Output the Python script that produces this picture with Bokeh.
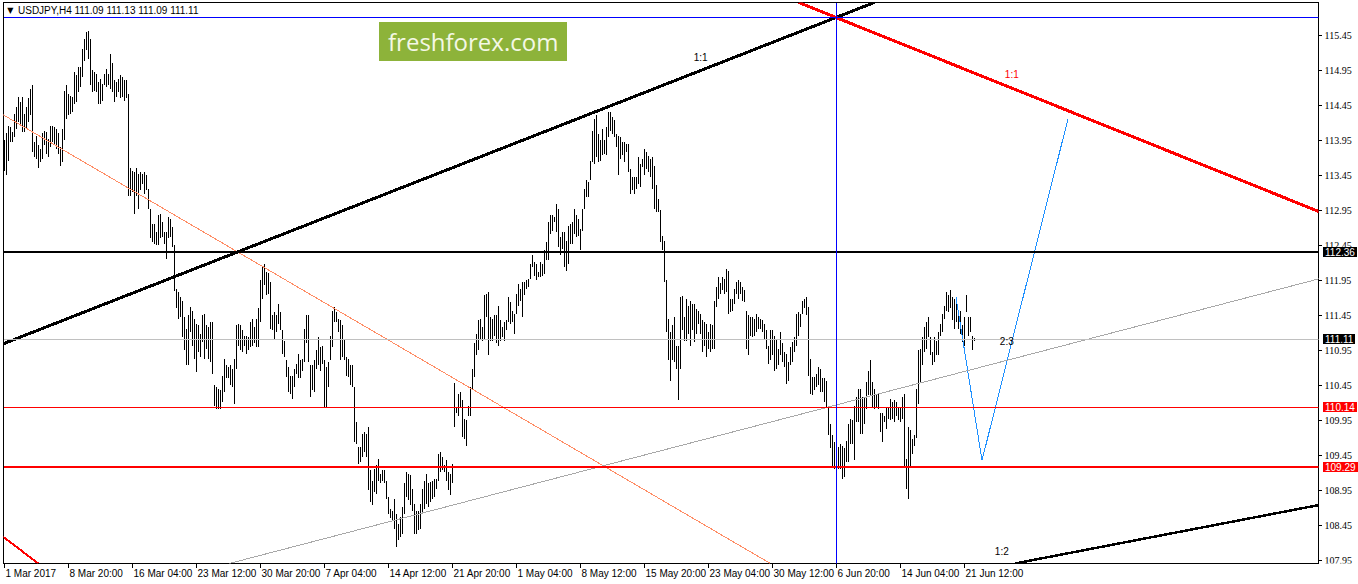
from bokeh.plotting import figure
from bokeh.layouts import row
from bokeh.models import (Range1d, Span, Slope, Label, FixedTicker, LinearAxis)
from bokeh.embed import file_html
from bokeh.resources import INLINE

# ---------------- data ----------------
symbol_header = "USDJPY,H4  111.09 111.13 111.09 111.11"

bar_high = [
    113.95, 114.05, 114.16, 114.14, 114.07, 114.33, 114.43, 114.57, 114.50, 114.57,
    114.33, 114.43, 114.55, 114.69, 114.74, 113.93, 114.02, 113.88, 113.83, 114.05,
    114.09, 114.07, 113.97, 114.16, 114.16, 114.14, 114.12, 114.05, 113.85, 114.12,
    114.66, 114.74, 114.62, 114.59, 114.57, 114.93, 114.88, 115.00, 115.00, 115.26,
    115.40, 115.50, 115.51, 115.40, 114.95, 114.93, 114.90, 114.78, 114.83, 114.76,
    114.90, 114.97, 114.90, 115.19, 115.05, 114.81, 114.78, 114.83, 114.88, 114.86,
    114.81, 114.81, 114.62, 113.55, 113.52, 113.50, 113.55, 113.47, 113.50, 113.47,
    113.50, 113.45, 113.26, 112.97, 112.76, 112.76, 112.64, 112.88, 112.90, 112.78,
    112.64, 112.64, 112.85, 112.83, 112.71, 112.45, 111.83, 111.78, 111.71, 111.66,
    111.43, 111.26, 111.45, 111.57, 111.52, 111.40, 111.33, 111.31, 111.19, 111.45,
    111.47, 111.31, 111.28, 111.35, 111.35, 110.45, 110.43, 110.40, 110.38, 110.59,
    110.83, 110.74, 110.71, 110.74, 110.69, 110.83, 111.31, 111.33, 111.31, 111.24,
    111.16, 111.16, 111.14, 111.35, 111.40, 111.28, 111.40, 111.55, 111.95, 112.14,
    112.19, 112.07, 112.05, 111.93, 111.45, 111.50, 111.45, 111.62, 111.50, 111.24,
    111.09, 110.81, 110.71, 110.59, 110.59, 110.69, 110.76, 110.90, 110.81, 110.83,
    111.26, 111.45, 111.45, 110.74, 110.74, 110.81, 110.95, 111.14, 111.00, 111.02,
    110.81, 110.71, 110.78, 111.16, 111.52, 111.57, 111.50, 111.40, 111.38, 111.31,
    111.12, 110.86, 110.83, 110.74, 110.74, 110.43, 109.93, 109.57, 109.57, 109.76,
    109.78, 109.76, 109.86, 109.24, 109.09, 109.26, 109.31, 109.40, 109.19, 109.24,
    109.24, 109.09, 108.85, 108.69, 108.66, 108.83, 108.62, 108.47, 108.57, 108.71,
    109.05, 109.21, 109.19, 109.17, 108.97, 108.76, 108.66, 108.66, 108.76, 108.97,
    109.09, 109.19, 109.05, 109.07, 109.09, 109.12, 109.12, 109.47, 109.50, 109.43,
    109.31, 109.38, 109.21, 109.19, 109.33, 110.48, 110.14, 110.33, 110.36, 110.24,
    109.97, 109.95, 110.16, 110.43, 110.69, 111.05, 111.19, 111.38, 111.40, 111.28,
    111.74, 111.76, 111.78, 111.43, 111.40, 111.45, 111.45, 111.59, 111.38, 111.28,
    111.35, 111.38, 111.71, 111.64, 111.52, 111.47, 111.76, 111.90, 111.83, 111.93,
    111.93, 111.95, 111.97, 112.19, 112.31, 112.21, 112.19, 112.07, 112.21, 112.19,
    112.38, 112.50, 112.78, 112.88, 112.88, 112.85, 113.04, 112.97, 112.57, 112.64,
    112.64, 112.52, 112.73, 112.76, 112.78, 112.97, 112.88, 112.83, 112.69, 112.97,
    113.26, 113.38, 113.35, 113.66, 114.09, 114.26, 114.31, 114.04, 113.95, 114.12,
    113.95, 114.14, 114.35, 114.35, 114.28, 114.24, 114.04, 114.02, 114.00, 113.93,
    113.93, 113.90, 113.90, 113.54, 113.43, 113.43, 113.43, 113.71, 113.62, 113.69,
    113.83, 113.78, 113.73, 113.69, 113.71, 113.59, 113.31, 113.12, 112.95, 112.59,
    112.52, 111.95, 111.40, 111.21, 111.31, 111.43, 111.02, 111.02, 111.71, 111.73,
    111.43, 111.69, 111.59, 111.66, 111.62, 111.62, 111.54, 111.52, 111.47, 111.38,
    111.35, 111.33, 111.21, 111.33, 111.31, 111.66, 111.85, 112.00, 111.92, 112.00,
    111.97, 112.12, 112.09, 111.69, 111.69, 111.83, 111.93, 111.95, 111.93, 111.85,
    111.81, 111.52, 111.45, 111.43, 111.43, 111.40, 111.47, 111.43, 111.40, 111.38,
    111.33, 111.24, 111.02, 111.24, 111.24, 111.16, 111.12, 110.97, 111.21, 111.05,
    110.93, 110.90, 110.78, 111.00, 111.07, 111.14, 111.47, 111.50, 111.47, 111.66,
    111.69, 111.71, 111.57, 110.83, 110.57, 110.57, 110.62, 110.71, 110.69, 110.55,
    110.55, 110.52, 110.16, 109.90, 109.74, 109.64, 109.59, 109.57, 109.62, 109.59,
    109.55, 109.66, 109.90, 109.97, 109.95, 110.16, 110.28, 110.40, 110.40, 110.28,
    110.28, 110.50, 110.66, 110.81, 110.50, 110.40, 110.33, 110.33, 110.05, 110.05,
    110.02, 110.14, 110.14, 110.26, 110.21, 110.24, 110.21, 110.14, 110.14, 110.28,
    110.33, 109.40, 109.85, 109.81, 109.69, 109.74, 110.40, 110.95, 110.97, 111.14,
    111.28, 111.35, 111.43, 111.14, 110.93, 111.14, 111.09, 111.21, 111.33, 111.47,
    111.59, 111.78, 111.74, 111.81, 111.71, 111.69, 111.64, 111.47, 111.52, 111.31,
    111.43, 111.74, 111.43, 111.43, 111.16, 111.13,
]

bar_low = [
    113.52, 113.45, 113.66, 113.93, 113.93, 114.00, 114.12, 114.21, 114.16, 114.07,
    114.07, 114.12, 114.21, 114.31, 113.78, 113.71, 113.69, 113.55, 113.64, 113.69,
    113.88, 113.76, 113.71, 113.85, 113.93, 113.88, 113.83, 113.76, 113.59, 113.64,
    113.95, 114.26, 114.31, 114.33, 114.35, 114.47, 114.50, 114.64, 114.71, 114.86,
    115.09, 115.24, 115.12, 114.74, 114.64, 114.66, 114.64, 114.47, 114.47, 114.52,
    114.74, 114.71, 114.74, 114.69, 114.64, 114.50, 114.57, 114.64, 114.55, 114.57,
    114.52, 114.55, 113.16, 113.16, 113.21, 112.90, 113.16, 112.97, 113.24, 113.33,
    113.19, 113.24, 112.97, 112.55, 112.50, 112.47, 112.45, 112.45, 112.55, 112.57,
    112.47, 112.26, 112.55, 112.57, 112.43, 111.80, 111.55, 111.40, 111.43, 111.14,
    110.95, 110.74, 110.74, 111.21, 111.02, 110.83, 110.64, 110.93, 110.85, 111.07,
    110.83, 110.97, 110.83, 110.78, 110.62, 110.16, 110.12, 110.12, 110.12, 110.21,
    110.35, 110.55, 110.55, 110.45, 110.43, 110.19, 110.69, 111.02, 110.95, 110.93,
    111.02, 110.90, 110.95, 111.00, 111.02, 111.05, 111.00, 111.00, 111.36, 111.69,
    111.88, 111.74, 111.76, 111.26, 111.24, 111.12, 111.21, 111.33, 111.24, 110.90,
    110.86, 110.57, 110.36, 110.33, 110.26, 110.43, 110.62, 110.55, 110.55, 110.66,
    110.78, 111.05, 110.78, 110.28, 110.38, 110.36, 110.69, 110.74, 110.66, 110.76,
    110.14, 110.14, 110.43, 110.81, 111.00, 111.36, 111.36, 111.21, 110.81, 110.86,
    110.81, 110.59, 110.57, 110.45, 110.43, 109.64, 109.62, 109.33, 109.36, 109.43,
    109.50, 109.43, 108.95, 108.78, 108.74, 108.93, 108.90, 109.09, 109.05, 109.09,
    109.05, 108.83, 108.62, 108.55, 108.52, 108.40, 108.14, 108.24, 108.28, 108.33,
    108.62, 108.86, 108.81, 108.74, 108.66, 108.33, 108.33, 108.38, 108.40, 108.62,
    108.69, 108.76, 108.71, 108.78, 108.83, 108.86, 108.97, 109.09, 109.21, 109.24,
    109.21, 109.09, 108.95, 108.88, 109.05, 109.86, 110.05, 110.02, 110.14, 109.71,
    109.69, 109.59, 110.02, 110.02, 110.38, 110.57, 110.88, 110.95, 111.12, 111.09,
    111.12, 111.43, 110.88, 111.09, 111.09, 111.16, 111.05, 111.02, 111.09, 111.14,
    111.09, 111.24, 111.35, 111.33, 111.35, 111.19, 111.47, 111.59, 111.66, 111.43,
    111.74, 111.83, 111.85, 111.97, 112.14, 112.02, 111.95, 112.00, 112.00, 112.02,
    112.04, 112.24, 112.24, 112.62, 112.66, 112.78, 112.64, 112.43, 112.31, 112.40,
    112.14, 112.09, 112.19, 112.47, 112.47, 112.62, 112.57, 112.59, 112.38, 112.66,
    112.97, 113.14, 113.14, 113.38, 113.64, 113.62, 113.71, 113.64, 113.66, 113.74,
    113.76, 113.74, 114.00, 114.09, 114.04, 114.00, 113.85, 113.45, 113.69, 113.74,
    113.64, 113.78, 113.50, 113.19, 113.24, 113.19, 113.26, 113.33, 113.28, 113.57,
    113.45, 113.54, 113.50, 113.43, 113.26, 112.97, 112.93, 112.93, 112.50, 112.38,
    111.93, 111.21, 110.81, 110.52, 110.81, 110.78, 110.69, 110.24, 110.69, 111.24,
    111.09, 111.09, 111.19, 111.02, 111.24, 111.07, 111.19, 111.33, 111.19, 110.93,
    111.02, 110.85, 110.97, 110.93, 110.97, 110.97, 111.57, 111.69, 111.76, 111.81,
    111.76, 111.78, 111.47, 111.50, 111.52, 111.62, 111.76, 111.69, 111.76, 111.66,
    111.64, 110.97, 110.88, 111.16, 111.14, 111.16, 111.21, 111.26, 111.26, 111.21,
    111.12, 110.97, 110.76, 110.81, 110.88, 110.66, 110.69, 110.74, 110.88, 110.78,
    110.71, 110.47, 110.52, 110.74, 110.78, 110.93, 111.02, 111.16, 111.28, 111.47,
    111.55, 111.45, 110.59, 110.33, 110.31, 110.38, 110.43, 110.45, 110.35, 110.35,
    110.21, 110.14, 109.74, 109.55, 109.28, 109.26, 109.24, 109.26, 109.26, 109.12,
    109.14, 109.36, 109.36, 109.62, 109.62, 109.38, 109.93, 109.93, 109.76, 109.76,
    109.90, 110.12, 110.31, 110.31, 110.14, 110.12, 110.14, 110.12, 109.78, 109.64,
    109.93, 109.83, 109.97, 109.95, 109.97, 109.93, 110.02, 109.95, 109.93, 109.97,
    109.28, 108.97, 108.83, 109.28, 109.47, 109.59, 109.70, 110.19, 110.50, 110.74,
    110.93, 110.97, 111.14, 110.88, 110.74, 110.78, 110.88, 110.88, 111.16, 111.21,
    111.40, 111.52, 111.50, 111.55, 111.38, 111.26, 111.35, 111.26, 111.19, 111.07,
    111.02, 111.50, 111.16, 111.21, 110.95, 111.09,
]

time_tick_bars = [0, 32, 64, 96, 128, 160, 192, 224, 256, 288, 320, 352, 384, 416, 448, 480]
time_tick_labels = ["1 Mar 2017", "8 Mar 20:00", "16 Mar 04:00", "23 Mar 12:00",
                    "30 Mar 20:00", "7 Apr 04:00", "14 Apr 12:00", "21 Apr 20:00",
                    "1 May 04:00", "8 May 12:00", "15 May 20:00", "23 May 04:00",
                    "30 May 12:00", "6 Jun 20:00", "14 Jun 04:00", "21 Jun 12:00"]

price_ticks = [107.95, 108.45, 108.95, 109.45, 109.95, 110.45, 110.95, 111.45,
               111.95, 112.45, 112.95, 113.45, 113.95, 114.45, 114.95, 115.45]

resistance_level = 112.36
bid_price = 111.11
support_level_1 = 110.14
support_level_2 = 109.29

apex_bar = 416
apex_price = 115.707

black_up_bars = [0, 416]
black_up_prices = [111.05, 115.707]
red_down_bars = [416, 657]
red_down_prices = [115.707, 112.94]
salmon_bars = [0, 383]
salmon_prices = [114.31, 107.91]
gray_bars = [113, 657]
gray_prices = [107.91, 111.97]
support_bars = [506, 657]
support_prices = [107.91, 108.74]
red_low_bars = [0, 17]
red_low_prices = [108.28, 107.91]

proj_bars = [476, 489, 532]
proj_prices = [111.71, 109.38, 114.26]

ratio_labels = [("1:1", 348.3, 115.14, "black"),
                ("1:1", 503.9, 114.89, "#FF0000"),
                ("2:3", 501.4, 111.08, "black"),
                ("1:2", 498.9, 108.08, "black")]

# ---------------- layout ----------------
FONT = "Liberation Sans"
H = 584
MAIN_W = 1322          # frame + tick marks of the price axis
STRIP_W = 36           # price-label column
LEFT, TOP, RIGHT, BOTTOM = 3, 2, 4, 21
PX_PER_BAR = 2.0
CRISP = {"shape-rendering": "crispEdges"}

n = min(len(bar_high), len(bar_low))
bars = list(range(n))

x_start = -0.25
x_end = x_start + (MAIN_W - LEFT - RIGHT) / PX_PER_BAR
y_range = Range1d(107.907, 115.921)

p = figure(width=MAIN_W, height=H, output_backend="svg", toolbar_location=None, tools="",
           x_range=Range1d(x_start, x_end), y_range=y_range, y_axis_location="right",
           min_border_left=LEFT, min_border_top=TOP, min_border_right=RIGHT,
           min_border_bottom=BOTTOM, styles=CRISP)
p.xgrid.visible = False
p.ygrid.visible = False
p.background_fill_color = "white"
p.border_fill_color = "white"
p.outline_line_color = "black"
p.outline_line_width = 1
p.outline_line_alpha = 1.0

# price axis: line + tick marks (labels are drawn in the strip next to it)
ya = p.yaxis[0]
ya.ticker = FixedTicker(ticks=price_ticks)
ya.major_label_overrides = {t: "" for t in price_ticks}
ya.major_label_text_font_size = "0px"
ya.major_label_standoff = 0
ya.major_tick_out = 3
ya.major_tick_in = 0
ya.minor_tick_out = 0
ya.minor_tick_in = 0
ya.axis_line_color = "black"
ya.major_tick_line_color = "black"

# time axis: ticks at the bars, labels start right of the tick (second axis)
xa = p.xaxis[0]
xa.ticker = FixedTicker(ticks=time_tick_bars)
xa.major_label_overrides = {b: "" for b in time_tick_bars}
xa.major_label_text_font_size = "0px"
xa.major_tick_out = 4
xa.major_tick_in = 0
xa.minor_tick_out = 0
xa.minor_tick_in = 0
xa.major_label_standoff = 0
xa.axis_line_color = "black"
xa.major_tick_line_color = "black"

CHAR_EM = {" ": 0.278, ":": 0.278, "M": 0.833, "a": 0.556, "r": 0.333, "A": 0.667,
           "p": 0.556, "y": 0.5, "J": 0.5, "u": 0.556, "n": 0.556}
def text_px(s, size=10.0):
    return sum(CHAR_EM.get(c, 0.556) for c in s) * size

label_pos = [b + (text_px(t) / 2 + 1.5) / PX_PER_BAR for b, t in zip(time_tick_bars, time_tick_labels)]
xa2 = LinearAxis(ticker=FixedTicker(ticks=label_pos),
                 major_label_overrides={lp: t for lp, t in zip(label_pos, time_tick_labels)},
                 major_tick_out=0, major_tick_in=0, minor_tick_out=0, minor_tick_in=0,
                 axis_line_color=None, major_tick_line_color=None, minor_tick_line_color=None,
                 major_label_standoff=0, major_label_text_font=FONT,
                 major_label_text_font_size="10px", major_label_text_color="black")
p.add_layout(xa2, "below")

# price bars
p.segment(x0=bars, y0=bar_low[:n], x1=bars, y1=bar_high[:n], line_color="black", line_width=1)


def add_ray(xs, ys, color, width):
    g = (ys[1] - ys[0]) / (xs[1] - xs[0])
    b = ys[0] - g * xs[0]
    p.add_layout(Slope(gradient=g, y_intercept=b, line_color=color, line_width=width))


add_ray(salmon_bars, salmon_prices, "#FF8C64", 1)
add_ray(gray_bars, gray_prices, "#A8A8A8", 1)
add_ray(black_up_bars, black_up_prices, "black", 3)
add_ray(red_down_bars, red_down_prices, "#FF0000", 3)
add_ray(support_bars, support_prices, "black", 2.5)
add_ray(red_low_bars, red_low_prices, "#FF0000", 2)

p.add_layout(Span(location=bid_price, dimension="width", line_color="#C0C0C0", line_width=1))
p.add_layout(Span(location=resistance_level, dimension="width", line_color="black", line_width=2))
p.add_layout(Span(location=support_level_1, dimension="width", line_color="#FF0000", line_width=1))
p.add_layout(Span(location=support_level_2, dimension="width", line_color="#FF0000", line_width=2))
p.add_layout(Span(location=apex_price, dimension="width", line_color="#0000FF", line_width=1))
p.add_layout(Span(location=apex_bar, dimension="height", line_color="#0000FF", line_width=1))

p.line(proj_bars, proj_prices, line_color="#1E90FF", line_width=1)

for txt, bx, py, col in ratio_labels:
    p.add_layout(Label(x=bx, y=py, text=txt, text_color=col, text_font=FONT,
                       text_font_size="10px", text_align="center", text_baseline="middle"))

# header
p.add_layout(Label(x=3.2, y=115.807, text="\u25BC", text_color="black", text_font="DejaVu Sans",
                   text_font_size="8px", text_align="center", text_baseline="middle"))
p.add_layout(Label(x=7.0, y=115.807, text=symbol_header, text_color="black", text_font=FONT,
                   text_font_size="10px", text_align="left", text_baseline="middle"))

# watermark
p.add_layout(Label(x=234.6, y=115.357, text="freshforex.com", text_color="#F4F8E6",
                   text_font="Open Sans", text_font_size="24px", text_align="center",
                   text_baseline="middle", background_fill_color="#8DB33A", padding=(9, 3)))

# ---------------- price-label column ----------------
s = figure(width=STRIP_W, height=H, output_backend="svg", toolbar_location=None, tools="",
           x_range=Range1d(0, STRIP_W), y_range=y_range,
           min_border_left=0, min_border_right=0, min_border_top=TOP,
           min_border_bottom=BOTTOM, styles=CRISP)
s.axis.visible = False
s.grid.visible = False
s.outline_line_color = None
s.background_fill_color = "white"
s.border_fill_color = "white"

s.text(x=[2] * len(price_ticks), y=price_ticks, text=[f"{t:.2f}" for t in price_ticks],
       text_font=FONT, text_font_size="10px", text_color="black",
       text_align="left", text_baseline="middle")

for price, bg in [(resistance_level, "black"), (bid_price, "black"),
                  (support_level_1, "#FF0000"), (support_level_2, "#FF0000")]:
    s.add_layout(Label(x=0.5, y=price, text=f"{price:.2f}", text_color="white", text_font=FONT,
                       text_font_size="10px", text_align="left", text_baseline="middle",
                       background_fill_color=bg, padding=(2, 1)))

layout = row(p, s, spacing=0)
open("out.html", "w").write(file_html(layout, INLINE))
